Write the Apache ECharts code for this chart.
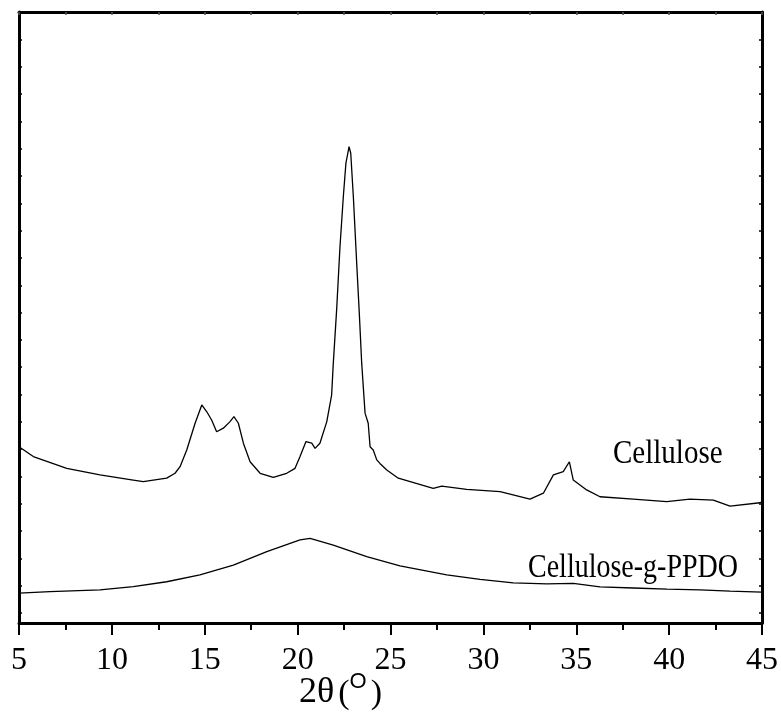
<!DOCTYPE html>
<html>
<head>
<meta charset="utf-8">
<script src="https://cdn.jsdelivr.net/npm/echarts@6/dist/echarts.min.js"></script>
<style>
  html, body { margin: 0; padding: 0; background: #fff; }
  #chart { width: 781px; height: 715px; }
</style>
</head>
<body>
<div id="chart"></div>
<script>
// X-ray diffraction patterns: 2θ (degrees) against intensity (counts, arbitrary offset)
const celluloseTheta = [
  5.00, 5.77, 7.57, 9.36, 11.15, 11.69, 12.95, 13.40, 13.67, 14.03,
  14.48, 14.84, 15.11, 15.37, 15.64, 16.00, 16.36, 16.57, 16.81, 17.08,
  17.44, 17.98, 18.69, 19.41, 19.86, 20.13, 20.45, 20.76, 20.94, 21.20,
  21.57, 21.83, 21.92, 22.10, 22.28, 22.46, 22.60, 22.77, 22.86, 23.00,
  23.18, 23.32, 23.45, 23.63, 23.80, 23.90, 24.07, 24.26, 24.43, 24.80,
  25.42, 25.51, 27.30, 27.76, 29.10, 30.90, 32.51, 33.23, 33.77, 34.30,
  34.63, 34.84, 35.56, 36.28, 38.07, 39.87, 41.12, 42.38, 43.28, 44.89,
  45.00
];
const celluloseIntensity = [
  645, 609, 566, 542, 523, 517, 530, 548, 572, 633,
  731, 798, 773, 743, 700, 713, 737, 755, 731, 658,
  590, 548, 533, 548, 566, 609, 664, 658, 639, 658,
  737, 834, 950, 1146, 1377, 1560, 1683, 1743, 1719, 1560,
  1317, 1134, 950, 768, 731, 645, 633, 597, 584, 560,
  530, 523, 493, 501, 489, 481, 453, 475, 542, 554,
  590, 523, 487, 462, 453, 444, 453, 450, 428, 440,
  443
];
const ppdoTheta = [
  5.00, 6.67, 9.36, 11.15, 12.95, 14.74, 16.54, 18.34, 20.13, 20.67,
  21.92, 23.72, 25.51, 28.03, 29.82, 31.61, 33.41, 34.84, 36.28, 38.07,
  39.89, 41.66, 43.28, 45.00
];
const ppdoIntensity = [
  109, 115, 121, 133, 151, 176, 212, 261, 304, 310,
  285, 243, 209, 176, 160, 147, 143, 145, 132, 128,
  124, 121, 117, 113
];
const xTicks = [5, 10, 15, 20, 25, 30, 35, 40, 45];
const seriesNames = ['Cellulose', 'Cellulose-g-PPDO'];

const zip = (xs, ys) => xs.map((x, i) => [x, ys[i]]);

const serif = "'Liberation Serif', 'Times New Roman', serif";
const yMax = 2236;

const frameAxisY = (pos) => ({
  type: 'value',
  position: pos,
  inverse: true,
  min: 0,
  max: yMax,
  interval: 100,
  axisLine: { show: true, onZero: false, lineStyle: { color: '#000', width: 3 } },
  axisTick: { show: true, inside: true, length: 3, lineStyle: { color: '#000', width: 1.5 } },
  axisLabel: { show: false },
  splitLine: { show: false }
});

const chart = echarts.init(document.getElementById('chart'), null, { renderer: 'canvas' });
chart.setOption({
  animation: false,
  backgroundColor: '#fff',
  grid: { left: 19, right: 19, top: 12, bottom: 92, containLabel: false, outerBoundsMode: 'none' },
  xAxis: [
    {
      type: 'value',
      position: 'bottom',
      min: xTicks[0],
      max: xTicks[xTicks.length - 1],
      interval: 5,
      axisLine: { show: true, onZero: false, lineStyle: { color: '#000', width: 3 } },
      axisTick: { show: true, inside: false, length: 12, lineStyle: { color: '#000', width: 2 } },
      minorTick: { show: true, splitNumber: 2, length: 7, lineStyle: { color: '#000', width: 2 } },
      axisLabel: { show: true, color: '#000', fontFamily: serif, fontSize: 32, margin: 22 },
      splitLine: { show: false },
      name: '{t|2θ}{p|(}{s|O}{p|)}',
      nameLocation: 'middle',
      nameGap: 48,
      nameMoveOverlap: false,
      nameTextStyle: {
        padding: [0, 100, 0, 0],
        rich: {
          t: { fontFamily: serif, fontSize: 36, color: '#000', lineHeight: 40, verticalAlign: 'bottom' },
          p: { fontFamily: serif, fontSize: 34, color: '#000', lineHeight: 40, verticalAlign: 'bottom', padding: [0, 0, 0, 4] },
          s: { fontFamily: "'Liberation Sans', Arial, sans-serif", fontSize: 22, color: '#000', lineHeight: 40, verticalAlign: 'top' }
        }
      }
    },
    {
      type: 'value',
      position: 'top',
      min: xTicks[0],
      max: xTicks[xTicks.length - 1],
      interval: 2.5,
      axisLine: { show: true, onZero: false, lineStyle: { color: '#000', width: 3 } },
      axisTick: { show: true, inside: true, length: 3, lineStyle: { color: '#555', width: 1.5 } },
      axisLabel: { show: false },
      splitLine: { show: false }
    }
  ],
  yAxis: [
    {
      type: 'value',
      min: 0,
      max: yMax,
      show: false,
      splitLine: { show: false }
    },
    frameAxisY('left'),
    frameAxisY('right')
  ],
  series: [
    {
      name: seriesNames[0],
      type: 'line',
      xAxisIndex: 0,
      yAxisIndex: 0,
      data: zip(celluloseTheta, celluloseIntensity),
      showSymbol: false,
      lineStyle: { color: '#000', width: 1.3 }
    },
    {
      name: seriesNames[1],
      type: 'line',
      xAxisIndex: 0,
      yAxisIndex: 0,
      data: zip(ppdoTheta, ppdoIntensity),
      showSymbol: false,
      lineStyle: { color: '#000', width: 1.3 }
    }
  ],
  graphic: [
    {
      type: 'text',
      x: 613, y: 471,
      scaleY: 1.15,
      style: { text: seriesNames[0], font: '29px ' + serif, fill: '#000', textAlign: 'left', textVerticalAlign: 'bottom' }
    },
    {
      type: 'text',
      x: 528, y: 585,
      scaleY: 1.2,
      style: { text: seriesNames[1], font: '28px ' + serif, fill: '#000', textAlign: 'left', textVerticalAlign: 'bottom' }
    }
  ]
});
</script>
</body>
</html>
